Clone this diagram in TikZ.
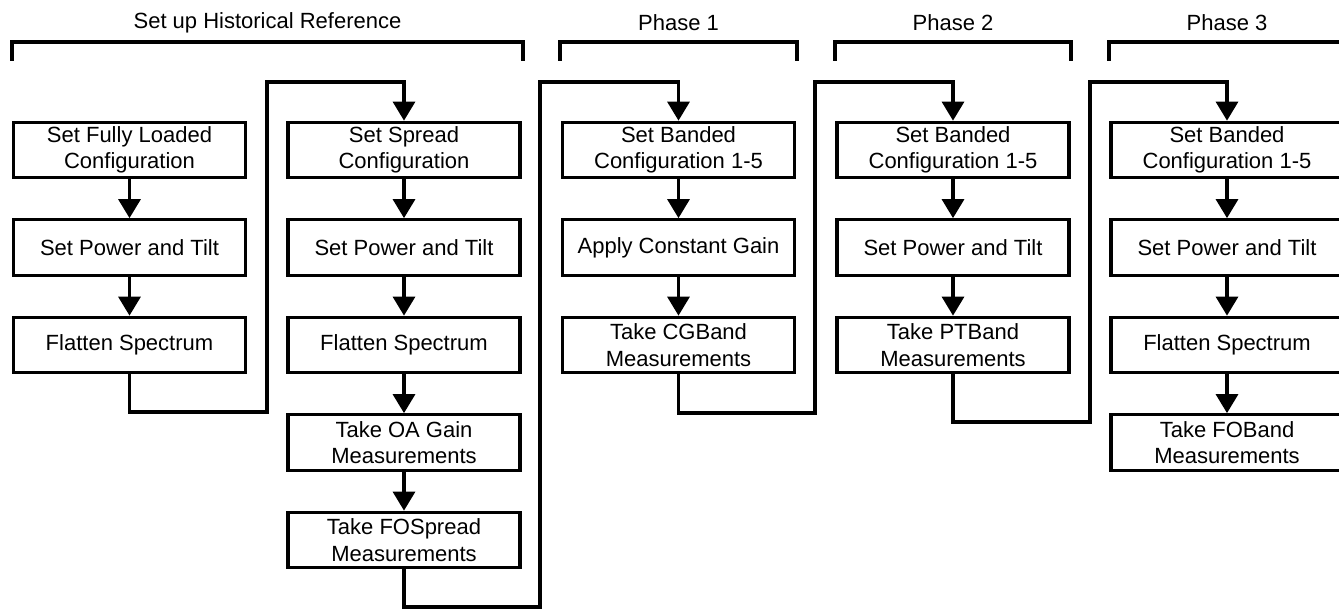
\documentclass[tikz,border=0pt]{standalone}
\usepackage{fontspec}
\setmainfont{Liberation Sans}
\usetikzlibrary{arrows.meta}

\tikzset{
    stepbox/.style={draw, line width=3.2pt, minimum width=232pt, minimum height=55.5pt,
        align=center, inner sep=0pt, font=\fontsize{22}{26.5}\selectfont},
    flow/.style={line width=3.2pt, -{Triangle[length=19pt,width=22pt]}},
    link/.style={line width=3.2pt},
    header/.style={font=\fontsize{22}{26.5}\selectfont}
}

\begin{document}
\begin{tikzpicture}[x=1pt, y=-1pt]

\useasboundingbox (0,0) rectangle (1339,609);

% Brackets over the stages
\draw[link] (12,61) |- (523,42) -- (523,61);
\draw[link] (560,61) |- (797,42) -- (797,61);
\draw[link] (835,61) |- (1071,42) -- (1071,61);
\draw[link] (1109,61) |- (1344,42) -- (1344,61);
\node[header] (hist) at (267.5,23) {Set up Historical Reference};
\node[header] (ph1) at (678.5,23) {Phase 1};
\node[header] (ph2) at (953,23) {Phase 2};
\node[header] (ph3) at (1227,23) {Phase 3};

% Historical reference, fully loaded
\node[stepbox] (c1r1) at (129.5,150) {Set Fully Loaded\\Configuration};
\node[stepbox] (c1r2) at (129.5,247.5) {Set Power and Tilt};
\node[stepbox] (c1r3) at (129.5,345) {Flatten Spectrum};

% Historical reference, spread
\node[stepbox] (c2r1) at (404,150) {Set Spread\\Configuration};
\node[stepbox] (c2r2) at (404,247.5) {Set Power and Tilt};
\node[stepbox] (c2r3) at (404,345) {Flatten Spectrum};
\node[stepbox] (c2r4) at (404,442.5) {Take OA Gain\\Measurements};
\node[stepbox] (c2r5) at (404,540) {Take FOSpread\\Measurements};

% Phase 1
\node[stepbox] (c3r1) at (678.5,150) {Set Banded\\Configuration 1-5};
\node[stepbox] (c3r2) at (678.5,247.5) {Apply Constant Gain};
\node[stepbox] (c3r3) at (678.5,345) {Take CGBand\\Measurements};

% Phase 2
\node[stepbox] (c4r1) at (953,150) {Set Banded\\Configuration 1-5};
\node[stepbox] (c4r2) at (953,247.5) {Set Power and Tilt};
\node[stepbox] (c4r3) at (953,345) {Take PTBand\\Measurements};

% Phase 3
\node[stepbox] (c5r1) at (1227,150) {Set Banded\\Configuration 1-5};
\node[stepbox] (c5r2) at (1227,247.5) {Set Power and Tilt};
\node[stepbox] (c5r3) at (1227,345) {Flatten Spectrum};
\node[stepbox] (c5r4) at (1227,442.5) {Take FOBand\\Measurements};

% Arrows inside the columns
\draw[flow] (c1r1) -- (c1r2);
\draw[flow] (c1r2) -- (c1r3);
\draw[flow] (c2r1) -- (c2r2);
\draw[flow] (c2r2) -- (c2r3);
\draw[flow] (c2r3) -- (c2r4);
\draw[flow] (c2r4) -- (c2r5);
\draw[flow] (c3r1) -- (c3r2);
\draw[flow] (c3r2) -- (c3r3);
\draw[flow] (c4r1) -- (c4r2);
\draw[flow] (c4r2) -- (c4r3);
\draw[flow] (c5r1) -- (c5r2);
\draw[flow] (c5r2) -- (c5r3);
\draw[flow] (c5r3) -- (c5r4);

% Links from one column to the next
\coordinate (j1a) at (267,412);
\coordinate (j1b) at (267,82);
\coordinate (j2a) at (540,607);
\coordinate (j2b) at (540,82);
\coordinate (j3a) at (815,413);
\coordinate (j3b) at (815,82);
\coordinate (j4a) at (1090,422);
\coordinate (j4b) at (1090,82);
\draw[flow] (c1r3.south) |- (j1a) -- (j1b) -| (c2r1.north);
\draw[flow] (c2r5.south) |- (j2a) -- (j2b) -| (c3r1.north);
\draw[flow] (c3r3.south) |- (j3a) -- (j3b) -| (c4r1.north);
\draw[flow] (c4r3.south) |- (j4a) -- (j4b) -| (c5r1.north);

\end{tikzpicture}
\end{document}
